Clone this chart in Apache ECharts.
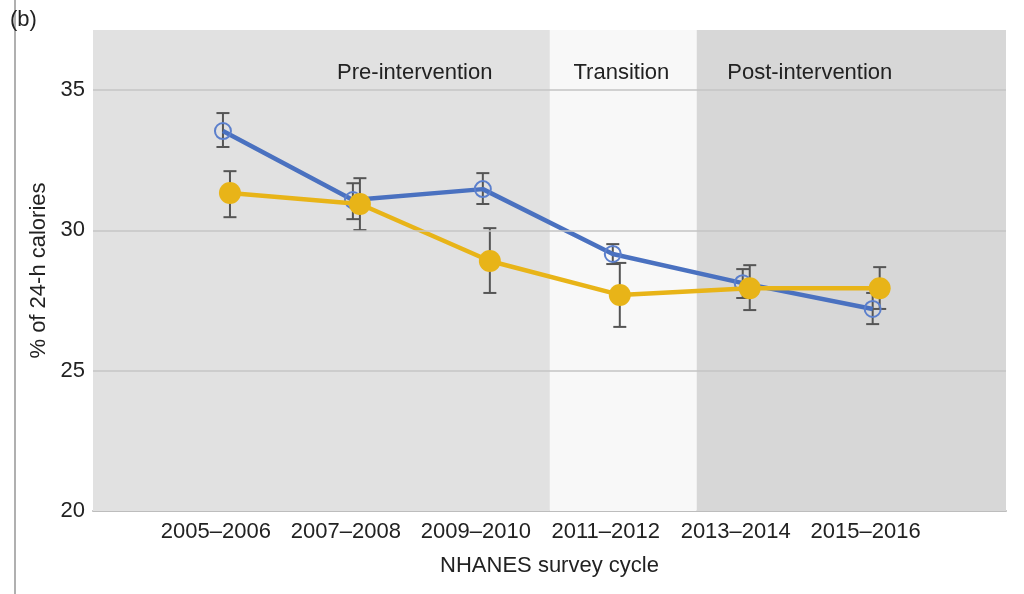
<!DOCTYPE html>
<html>
<head>
<meta charset="utf-8">
<script src="https://cdn.jsdelivr.net/npm/echarts@6/dist/echarts.min.js"></script>
<style>html,body{margin:0;padding:0;background:#fff}#c{width:1024px;height:594px}</style>
</head>
<body>
<div id="c"></div>
<script>
const cycles = ['2005–2006', '2007–2008', '2009–2010', '2011–2012', '2013–2014', '2015–2016'];
const blueMean = [33.54, 31.08, 31.47, 29.16, 28.12, 27.20];
const blueLow = [32.97, 30.40, 30.94, 28.80, 27.59, 26.66];
const blueHigh = [34.18, 31.68, 32.04, 29.51, 28.62, 27.77];
const yellowMean = [31.33, 30.94, 28.91, 27.70, 27.94, 27.94];
const yellowLow = [30.47, 30.01, 27.77, 26.56, 27.16, 27.20];
const yellowHigh = [32.11, 31.86, 30.08, 28.84, 28.76, 28.69];
const yTicks = [20, 25, 30, 35];
const phaseNames = ['Pre-intervention', 'Transition', 'Post-intervention'];

const FONT = "'Liberation Sans', Arial, Helvetica, sans-serif";
const X_MIN = 0.054, X_MAX = 7.08;
const phaseBounds = [[X_MIN, 3.57], [3.57, 4.70], [4.70, X_MAX]];
const phaseColors = ['#e1e1e1', '#f8f8f8', '#d7d7d7'];
const phaseLabelX = [2.53, 4.12, 5.57];
const blueOff = 0.054, yellowOff = 0.108;

const bluePts = blueMean.map((v, i) => [i + 1 + blueOff, v]);
const yellowPts = yellowMean.map((v, i) => [i + 1 + yellowOff, v]);
const errData = blueMean.map((v, i) => [i + 1 + blueOff, blueLow[i], blueHigh[i]])
  .concat(yellowMean.map((v, i) => [i + 1 + yellowOff, yellowLow[i], yellowHigh[i]]));

const chart = echarts.init(document.getElementById('c'), null, {renderer: 'canvas'});
chart.setOption({
  animation: false,
  backgroundColor: '#ffffff',
  textStyle: {fontFamily: FONT},
  grid: {left: 93, right: 18, top: 30, bottom: 83},
  graphic: [
    {type: 'line', shape: {x1: 15, y1: 0, x2: 15, y2: 594}, style: {stroke: '#b0b0b0', lineWidth: 2}},
    {type: 'text', left: 10, top: 9, style: {text: '(b)', fontSize: 22, fontFamily: FONT, fill: '#222'}}
  ],
  xAxis: {
    type: 'value', min: X_MIN, max: X_MAX,
    splitLine: {show: false},
    axisTick: {show: false},
    axisLine: {show: true, onZero: false, lineStyle: {color: '#bdbdbd', width: 2}},
    axisLabel: {
      customValues: cycles.map((c, i) => i + 1),
      formatter: v => cycles[Math.round(v) - 1] || '',
      fontSize: 22, color: '#222', margin: 10, fontFamily: FONT
    },
    name: 'NHANES survey cycle', nameLocation: 'middle', nameGap: 44,
    nameTextStyle: {fontSize: 22, color: '#222', fontFamily: FONT}
  },
  yAxis: {
    type: 'value', min: 20, max: 37.14, interval: 5,
    splitLine: {show: false},
    axisTick: {show: false},
    axisLine: {show: false},
    axisLabel: {customValues: yTicks, fontSize: 22, color: '#222', margin: 8, fontFamily: FONT},
    name: '% of 24-h calories', nameLocation: 'middle', nameGap: 42,
    nameTextStyle: {fontSize: 22, color: '#222', fontFamily: FONT}
  },
  series: [
    {
      type: 'line', data: [], z: 0, silent: true,
      markArea: {
        silent: true,
        data: phaseBounds.map((b, i) => [
          {xAxis: b[0], itemStyle: {color: phaseColors[i]}},
          {xAxis: b[1]}
        ]),
        label: {show: false}
      },
      markPoint: {
        symbol: 'circle', symbolSize: 0, silent: true,
        data: phaseNames.map((n, i) => ({name: n, coord: [phaseLabelX[i], 35.6]})),
        label: {show: true, formatter: p => p.name, fontSize: 22, color: '#222', fontFamily: FONT, position: 'inside'}
      }
    },
    {
      type: 'line', data: [], z: 1, silent: true,
      markLine: {
        silent: true, symbol: 'none', label: {show: false},
        lineStyle: {color: '#c4c4c4', width: 1.5, type: 'solid'},
        data: yTicks.filter(t => t > 20).map(t => ({yAxis: t}))
      }
    },
    {
      type: 'custom', z: 2, silent: true,
      data: errData,
      encode: {x: 0, y: [1, 2]},
      renderItem: (params, api) => {
        const x = api.value(0);
        const lo = api.coord([x, api.value(1)]);
        const hi = api.coord([x, api.value(2)]);
        const w = 6.5;
        const st = {stroke: '#555555', lineWidth: 2};
        return {type: 'group', children: [
          {type: 'line', shape: {x1: lo[0], y1: lo[1], x2: hi[0], y2: hi[1]}, style: st},
          {type: 'line', shape: {x1: lo[0] - w, y1: lo[1], x2: lo[0] + w, y2: lo[1]}, style: st},
          {type: 'line', shape: {x1: hi[0] - w, y1: hi[1], x2: hi[0] + w, y2: hi[1]}, style: st}
        ]};
      }
    },
    {
      type: 'line', z: 3, data: bluePts,
      symbol: 'circle', symbolSize: 16,
      lineStyle: {color: '#4a71c0', width: 4.5},
      itemStyle: {color: 'rgba(0,0,0,0)', borderWidth: 2, borderColor: '#5b7fcc'}
    },
    {
      type: 'line', z: 4, data: yellowPts,
      symbol: 'circle', symbolSize: 22,
      lineStyle: {color: '#e8b418', width: 4.5},
      itemStyle: {color: '#e8b418'}
    }
  ]
});
</script>
</body>
</html>
